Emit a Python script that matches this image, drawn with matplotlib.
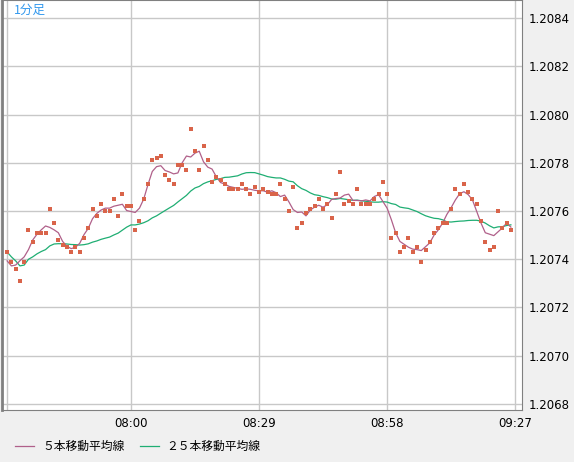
import matplotlib
matplotlib.use("Agg")
import matplotlib.pyplot as plt
import numpy as np
import pandas as pd

plt.rcParams['font.family'] = ['Noto Sans CJK JP', 'DejaVu Sans']

prices = [1.20743,1.20739,1.20736,1.20731,1.20739,1.20752,1.20747,1.20751,1.20751,1.20751,
1.20761,1.20755,1.20748,1.20746,1.20745,1.20743,1.20745,1.20743,1.20749,1.20753,
1.20761,1.20758,1.20763,1.20760,1.20760,1.20765,1.20758,1.20767,1.20762,1.20762,
1.20752,1.20756,1.20765,1.20771,1.20781,1.20782,1.20783,1.20775,1.20773,1.20771,
1.20779,1.20779,1.20777,1.20794,1.20785,1.20777,1.20787,1.20781,1.20772,1.20774,
1.20773,1.20771,1.20769,1.20769,1.20769,1.20771,1.20769,1.20767,1.20770,1.20768,
1.20769,1.20768,1.20767,1.20767,1.20771,1.20765,1.20760,1.20770,1.20753,1.20755,
1.20759,1.20761,1.20762,1.20765,1.20761,1.20763,1.20757,1.20767,1.20776,1.20763,
1.20764,1.20763,1.20769,1.20763,1.20763,1.20763,1.20765,1.20767,1.20772,1.20767,
1.20749,1.20751,1.20743,1.20745,1.20749,1.20743,1.20745,1.20739,1.20744,1.20747,
1.20751,1.20753,1.20755,1.20755,1.20761,1.20769,1.20767,1.20771,1.20768,1.20765,
1.20763,1.20756,1.20747,1.20744,1.20745,1.20760,1.20753,1.20755,1.20752]
tick_idx = [29, 59, 89, 119]
tick_labels = ['08:00', '08:29', '08:58', '09:27']
yticks = [1.2068, 1.2070, 1.2072, 1.2074, 1.2076, 1.2078, 1.2080, 1.2082, 1.2084]

s = pd.Series(prices)
ma5 = s.rolling(5, min_periods=1, center=True).mean()
ma25 = s.rolling(25, min_periods=1).mean()
x = np.arange(len(prices))

fig = plt.figure(figsize=(5.74, 4.62), dpi=100, facecolor='#f0f0f0')
ax = fig.add_axes([2/574, 52/462, 520/574, 410/462])
ax.set_facecolor('white')
ax.plot(x, ma25, color='#1fae73', lw=0.9, zorder=2)
ax.plot(x, ma5, color='#b0608a', lw=0.9, zorder=3)
ax.scatter(x, prices, marker='s', s=7, color='#d9644a', lw=0, zorder=4)
ax.set_xlim(-1.2, 120.6)
ax.set_ylim(1.206775, 1.208475)
ax.set_xticks([0] + tick_idx)
ax.set_xticklabels([''] + tick_labels, fontsize=8.5, family='DejaVu Sans')
ax.set_yticks(yticks)
ax.set_yticklabels([f'{v:.4f}' for v in yticks], fontsize=8.5, family='DejaVu Sans')
ax.yaxis.tick_right()
ax.tick_params(length=0, pad=5)
ax.grid(True, color='#c8c8c8', lw=1)
ax.set_axisbelow(True)
for sp in ax.spines.values():
    sp.set_color('#808080')
ax.spines['left'].set_linewidth(2)
ax.text(0.022, 0.99, '1分足', transform=ax.transAxes, ha='left', va='top',
        color='#3399ee', fontsize=9)
fig.lines.append(plt.Line2D([15/574, 34/574], [16/462, 16/462], color='#b0608a', lw=0.9, transform=fig.transFigure))
fig.text(42/574, 16/462, '５本移動平均線', va='center', fontsize=8.5)
fig.lines.append(plt.Line2D([140/574, 159/574], [16/462, 16/462], color='#1fae73', lw=0.9, transform=fig.transFigure))
fig.text(166/574, 16/462, '２５本移動平均線', va='center', fontsize=8.5)
fig.savefig('out.png', dpi=100, facecolor=fig.get_facecolor())
